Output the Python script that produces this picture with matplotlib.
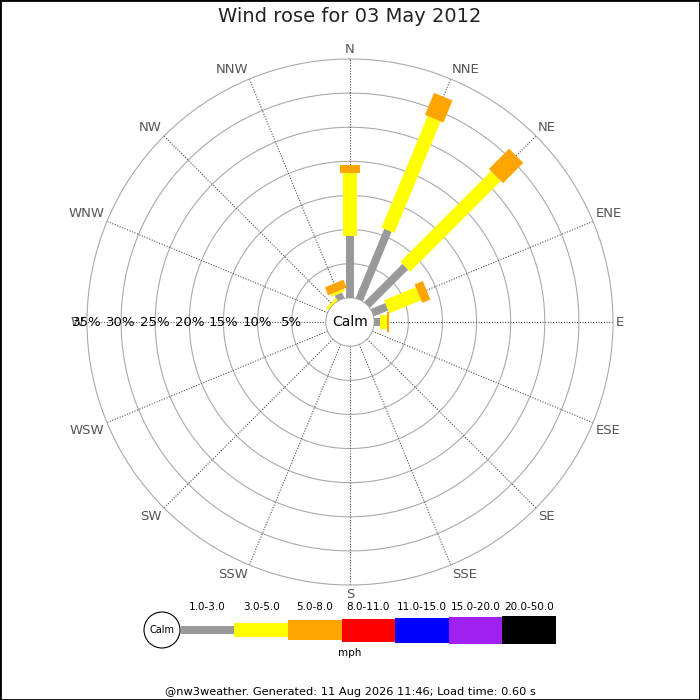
"""
Wind rose for one day, redrawn with matplotlib.
"""

import numpy as np
import matplotlib
matplotlib.use('Agg')
import matplotlib.pyplot as plt
from matplotlib.patches import Circle, Rectangle

TITLE = 'Wind rose for 03 May 2012'
FOOTER = '@nw3weather. Generated: 11 Aug 2026 11:46; Load time: 0.60 s'
UNITS = 'mph'

DIRECTIONS = ['N', 'NNE', 'NE', 'ENE', 'E', 'ESE', 'SE', 'SSE',
              'S', 'SSW', 'SW', 'WSW', 'W', 'WNW', 'NW', 'NNW']

SPEED_BINS = ['1.0-3.0', '3.0-5.0', '5.0-8.0', '8.0-11.0',
              '11.0-15.0', '15.0-20.0', '20.0-50.0']
BIN_COLOURS = ['#999999', '#ffff00', '#ffa500', '#ff0000',
               '#0000ff', '#a020f0', '#000000']

# percent of the day per direction, one list per speed bin (only these had data)
PCT_1_3 = [9.0, 11.0, 7.9, 2.3, 0.9, 0, 0, 0, 0, 0, 0, 0, 0, 0, 0.0, 0.9]
PCT_3_5 = [9.3, 17.7, 18.8, 5.0, 1.0, 0, 0, 0, 0, 0, 0, 0, 0, 0, 0.4, 0.4]
PCT_5_8 = [1.2, 3.5, 4.2, 1.3, 0.2, 0, 0, 0, 0, 0, 0, 0, 0, 0, 0.0, 1.25]

RINGS = [5, 10, 15, 20, 25, 30, 35]

# styling
BAR_WIDTHS_PX = [8, 14, 20, 23, 25, 27, 28]
RING_COLOUR = '#aaaaaa'
SPOKE_COLOUR = '#555555'
LABEL_COLOUR = '#555555'
R_MAX = 35
R_ORIGIN = -3.55
PX = 0.72  # points per pixel at 100 dpi


def draw_rose(fig):
    ax = fig.add_axes([87 / 700, 115 / 700, 526 / 700, 526 / 700], projection='polar')
    ax.set_facecolor('none')
    ax.set_theta_zero_location('N')
    ax.set_theta_direction(-1)
    ax.set_ylim(0, R_MAX)
    ax.set_rorigin(R_ORIGIN)
    ax.set_xticks([])
    ax.set_yticks(RINGS[:-1])
    ax.set_yticklabels([])
    ax.grid(False)
    for name in ('polar', 'inner'):
        ax.spines[name].set_color(RING_COLOUR)
        ax.spines[name].set_linewidth(0.8)

    circle_t = np.linspace(0, 2 * np.pi, 361)
    for r in RINGS[:-1]:
        ax.plot(circle_t, [r] * len(circle_t), color=RING_COLOUR, lw=0.8, zorder=1)

    thetas = np.deg2rad(np.arange(len(DIRECTIONS)) * 22.5)
    for t in thetas:
        ax.plot([t, t], [0, R_MAX], color=SPOKE_COLOUR, lw=0.8,
                ls=(0, (1, 1.4)), zorder=1)

    # stacked bars, narrow to wide with speed
    series = [PCT_1_3, PCT_3_5, PCT_5_8]
    cum = np.zeros(len(DIRECTIONS))
    for i, values in enumerate(series):
        values = np.array(values, dtype=float)
        for t, start, v in zip(thetas, cum, values):
            if v <= 0:
                continue
            ax.plot([t, t], [start, start + v], color=BIN_COLOURS[i],
                    lw=BAR_WIDTHS_PX[i] * PX, solid_capstyle='butt', zorder=3)
        cum = cum + values

    # compass labels just outside the outer ring
    for t, name in zip(thetas, DIRECTIONS):
        s, c = np.sin(t), np.cos(t)
        ha = 'left' if s > 0.1 else ('right' if s < -0.1 else 'center')
        va = 'bottom' if c > 0.1 else ('top' if c < -0.1 else 'center')
        ax.text(t, R_MAX + 0.45, name, ha=ha, va=va, fontsize=9.5,
                color=LABEL_COLOUR, clip_on=False)

    # percent labels along the west spoke
    for r in RINGS:
        ax.text(1.5 * np.pi, r, f'{r}%', ha='center', va='center',
                fontsize=9.5, color='black', clip_on=False, zorder=4)

    ax.text(0.5, 0.5, 'Calm', transform=ax.transAxes, ha='center',
            va='center', fontsize=10, color='black')


def draw_legend(ov):
    ov.add_patch(Circle((162, 630), 18, facecolor='white', edgecolor='black', lw=0.8))
    ov.text(162, 630, 'Calm', ha='center', va='center', fontsize=7)

    seg = 53.6
    x_left = 180.7 + np.arange(len(SPEED_BINS)) * seg
    heights = np.array(BAR_WIDTHS_PX)
    ov.bar(x_left, heights, width=seg, bottom=630 - heights / 2, align='edge',
           color=BIN_COLOURS, edgecolor='none')
    for x, label in zip(x_left, SPEED_BINS):
        ov.text(x + seg / 2, 607, label, ha='center', va='center', fontsize=7.5)
    ov.text(350, 653, UNITS, ha='center', va='center', fontsize=7.5)


def main() -> None:
    fig = plt.figure(figsize=(7, 7), dpi=100)
    fig.patch.set_facecolor('white')

    ov = fig.add_axes([0, 0, 1, 1])
    ov.set_xlim(0, 700)
    ov.set_ylim(700, 0)
    ov.axis('off')

    draw_rose(fig)
    draw_legend(ov)

    fig.text(0.5, 1 - 17 / 700, TITLE, ha='center', va='center',
             fontsize=14, color='#222222')
    fig.text(0.5, 1 - 692 / 700, FOOTER, ha='center', va='center', fontsize=8.2)
    ov.add_patch(Rectangle((0, 0), 1, 1, transform=fig.transFigure, fill=False,
                           edgecolor='black', lw=2, clip_on=False))

    fig.savefig('out.png', dpi=100, facecolor='white')


if __name__ == '__main__':
    main()
